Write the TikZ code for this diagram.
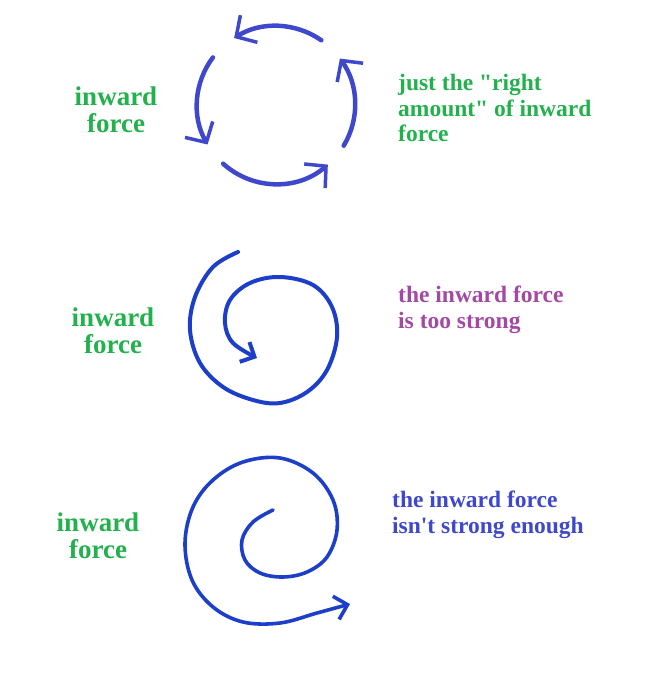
\documentclass[tikz,border=0pt]{standalone}
\usepackage{fontspec}
\setmainfont{Liberation Serif}[Ligatures=TeXOff]
\usetikzlibrary{arrows.meta}
\definecolor{pgreen}{RGB}{34,177,76}
\definecolor{ppurple}{RGB}{163,73,164}
\definecolor{pindigo}{RGB}{63,72,204}
\definecolor{pmarker}{RGB}{28,62,200}
\tikzset{
  lbl/.style = {font=\bfseries\fontsize{27}{27}\selectfont, text=pgreen, align=center, inner sep=0pt},
  txt/.style = {font=\bfseries\fontsize{23.5}{25.5}\selectfont, align=left, anchor=west, inner sep=0pt},
  circarrow/.style = {pindigo, line width=4.5pt, line cap=round, -{Straight Barb[length=15pt,width=32pt,line width=3.5pt]}},
  spiral/.style = {pmarker, line width=4pt, line cap=round, line join=round}
}

\begin{document}
\begin{tikzpicture}[x=1pt, y=1pt]
\useasboundingbox (0,0) rectangle (644,-684);
% top: circular motion
\coordinate (C) at (276,-105);
\foreach \s/\e in {55/122, 143/210, 228/311, 329/396}
  \draw[circarrow] (C) ++(\s:79) arc[start angle=\s, end angle=\e, radius=79];
\path (116,-110) node[lbl] (I1) {inward\\force};
\path (398,-108) node[txt, text=pgreen] (T1) {just the "right\\amount" of inward\\force};

% middle: spiral inward
\draw[spiral, -{Straight Barb[length=11pt,width=22pt]}] plot[smooth, tension=0.6] coordinates {
  (238,-252) (213,-267) (195,-297) (190,-330) (200,-363) (223,-387) (253,-400)
  (280,-403) (307,-392) (327,-370) (337,-337) (332,-307) (313,-285) (280,-277)
  (250,-283) (230,-300) (225,-323) (233,-343) (257,-358)};
\path (113,-331) node[lbl] (I2) {inward\\force};
\path (398,-310) node[txt, text=ppurple] (T2) {the inward force\\is too strong};

% bottom: spiral outward
\draw[spiral, line width=3.6pt, -{Straight Barb[length=12pt,width=24pt]}] plot[smooth, tension=0.6] coordinates {
  (273,-510) (253,-522) (242,-540) (245,-560) (260,-573) (283,-577) (307,-572)
  (327,-557) (337,-530) (333,-500) (313,-473) (280,-458) (243,-462) (213,-480)
  (193,-507) (185,-543) (192,-580) (213,-607) (243,-622) (280,-623) (317,-613)
  (350,-604)};
\path (98,-536) node[lbl] (I3) {inward\\force};
\path (392,-515) node[txt, text=pindigo] (T3) {the inward force\\isn't strong enough};
\end{tikzpicture}
\end{document}
